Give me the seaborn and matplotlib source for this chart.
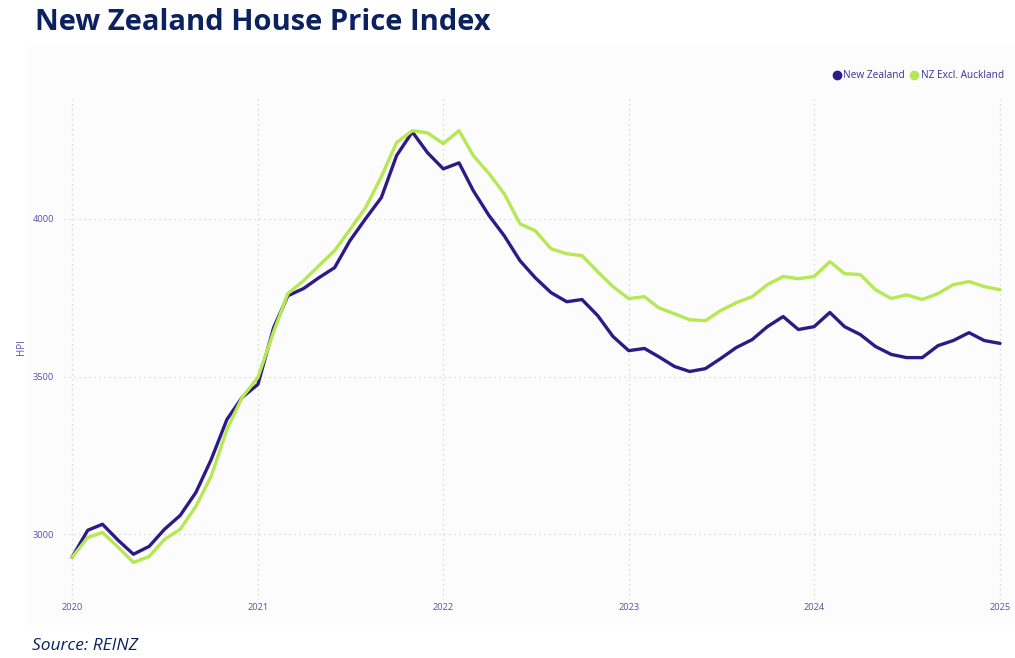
import matplotlib
matplotlib.use("Agg")
import matplotlib.pyplot as plt
from matplotlib.patches import Rectangle
from matplotlib.lines import Line2D
import seaborn as sns
import pandas as pd

# ---- data (monthly, Jan 2020 - Jan 2025) ----
dates = pd.date_range("2020-01-01", "2025-01-01", freq="MS")
nz = [2927, 3013, 3032, 2981, 2937, 2962, 3016, 3060, 3133, 3237, 3364, 3434,
      3475, 3655, 3756, 3779, 3813, 3845, 3930, 4000, 4067, 4200, 4275, 4209,
      4158, 4177, 4089, 4010, 3946, 3867, 3813, 3766, 3737, 3744, 3693, 3627,
      3582, 3589, 3563, 3532, 3516, 3525, 3557, 3592, 3617, 3658, 3690, 3649,
      3658, 3703, 3658, 3633, 3595, 3570, 3560, 3560, 3598, 3614, 3639, 3614,
      3605]
nz_ex_akl = [2927, 2990, 3006, 2959, 2911, 2930, 2984, 3016, 3089, 3184, 3332, 3434,
             3497, 3642, 3763, 3804, 3851, 3899, 3965, 4035, 4133, 4241, 4279, 4272,
             4238, 4279, 4200, 4143, 4079, 3984, 3962, 3905, 3889, 3883, 3832, 3785,
             3747, 3753, 3718, 3699, 3680, 3677, 3709, 3734, 3753, 3791, 3817, 3810,
             3817, 3864, 3826, 3823, 3775, 3747, 3759, 3744, 3763, 3791, 3801, 3785,
             3775]
series_names = ["New Zealand", "NZ Excl. Auckland"]
colors = ["#2E1A87", "#B5E853"]
y_ticks = [3000, 3500, 4000]
x_ticks = ["2020", "2021", "2022", "2023", "2024", "2025"]

df = pd.DataFrame({
    "date": list(dates) * 2,
    "HPI": nz + nz_ex_akl,
    "series": [series_names[0]] * len(nz) + [series_names[1]] * len(nz_ex_akl),
})

sns.set_theme(style="white")
plt.rcParams["font.family"] = ["Open Sans", "DejaVu Sans"]

W, H = 1015, 658
fig = plt.figure(figsize=(W / 100, H / 100), dpi=100)
fig.patch.set_facecolor("white")

# light panel behind chart
panel = Rectangle((28 / W, 1 - 625 / H), (1015 - 28) / W, (625 - 45) / H,
                  transform=fig.transFigure, facecolor="#FCFCFC",
                  edgecolor="none", zorder=-5)
fig.add_artist(panel)

ax = fig.add_axes([64 / W, 1 - 600 / H, (1005 - 64) / W, (600 - 95) / H])
ax.set_zorder(2)
ax.set_facecolor("none")

sns.lineplot(data=df, x="date", y="HPI", hue="series", palette=colors,
             linewidth=2.4, ax=ax, legend=False)

ax.set_ylim(2792, 4392)
x0 = pd.Timestamp("2020-01-01")
x1 = pd.Timestamp("2025-01-01")
span = (x1 - x0)
ax.set_xlim(x0 - span * (8 / 928), x1 + span * (5 / 928))

tick_color = "#5A4FA8"
ax.set_yticks(y_ticks)
ax.set_yticklabels([str(v) for v in y_ticks])
ax.set_xticks([pd.Timestamp(f"{y}-01-01") for y in x_ticks])
ax.set_xticklabels(x_ticks)
ax.tick_params(axis="both", length=0, labelsize=6.7, labelcolor=tick_color)
ax.tick_params(axis="x", pad=2)
ax.tick_params(axis="y", pad=7)

ax.grid(True, linestyle=(0, (1, 3)), color="#CFCFCF", linewidth=0.9)
for s in ax.spines.values():
    s.set_visible(False)

ax.set_xlabel("")
ax.set_ylabel("HPI", color=tick_color, fontsize=7)
ax.yaxis.set_label_coords((27 - 64) / 941, 0.5)

# legend
handles = [Line2D([0], [0], marker="o", linestyle="none", markersize=6,
                  markerfacecolor=c, markeredgecolor=c) for c in colors]
leg = fig.legend(handles, series_names, loc="upper right",
                 bbox_to_anchor=(1008 / W, 1 - 66 / H), ncol=2, frameon=False,
                 fontsize=7.3, handletextpad=0.15, columnspacing=0.4,
                 borderaxespad=0, handlelength=1.0)
for t in leg.get_texts():
    t.set_color("#3E2F96")

fig.text(35 / W, 1 - 22 / H, "New Zealand House Price Index", fontsize=21,
         fontweight="bold", color="#0B2160", ha="left", va="center")
fig.text(32 / W, 1 - 646 / H, "Source: REINZ", fontsize=12.5, fontstyle="italic",
         color="#0B2160", ha="left", va="center")

fig.savefig("out.png", dpi=100)
